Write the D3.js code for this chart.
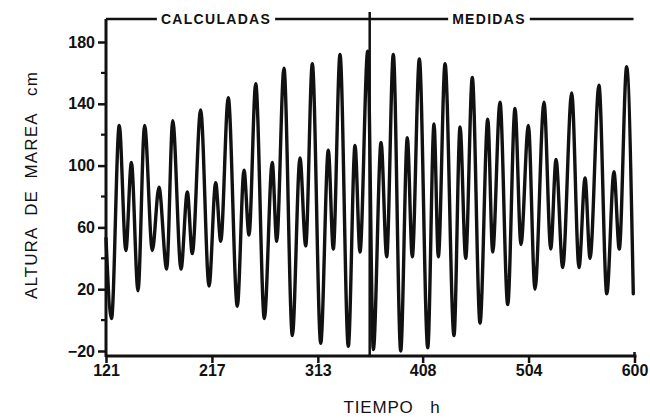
<!DOCTYPE html>
<html>
<head>
<meta charset="utf-8">
<script src="https://cdn.jsdelivr.net/npm/d3@7"></script>
<style>
  body { margin: 0; background: #fff; }
  svg { display: block; }
</style>
</head>
<body>
<svg id="chart" width="650" height="418"></svg>
<script>
// Tide record: successive highs and lows (hour, height in cm)
const hours = [
  121, 126, 133, 139, 144, 150, 156, 163, 169, 176,
  181.5, 189, 194.7, 199.2, 206.8, 214.4, 220.4, 225, 231.8, 240,
  246.1, 250.6, 256.7, 264.5, 271.7, 275.7, 282.3, 289.9, 296.8, 302,
  308, 315.6, 322.5, 327, 333.1, 340.6, 346.7, 351.2, 358.2, 363.3,
  370.3, 375.4, 381.4, 388.1, 394.1, 398.6, 405, 412.6, 418.3, 422.2,
  428.3, 436.4, 441.9, 447, 453, 460, 467, 471.5, 478.1, 485.1,
  491.7, 497.1, 503.8, 509.8, 518, 524.1, 528.9, 534.9, 543.1, 549.7,
  555.2, 559.7, 567.8, 574.9, 581.4, 586.2, 592.9, 598.9
];
const heights = [
  53, 1, 126, 45, 102, 19, 126, 45, 86, 33,
  129, 33, 83, 43, 136, 22, 89, 51, 144, 9,
  97, 55, 153, 1, 102, 51, 163, -10, 105, 48,
  166, -15, 110, 46, 172, -17, 113, 44, 174, -19,
  115, 41, 172, -20, 118, 41, 169, -18, 127, 41,
  166, -10, 125, 40, 157, -2, 130, 44, 141, 10,
  137, 49, 126, 20, 141, 46, 104, 34, 147, 34,
  92, 40, 152, 17, 96, 46, 164, 17
];

const xTickValues = [121, 217, 313, 408, 504, 600];
const yTickValues = [-20, 20, 60, 100, 140, 180];
const yMinorTickValues = [0, 40, 80, 120, 160];
const sectionLabels = ["CALCULADAS", "MEDIDAS"];
const sectionBreak = 360;
const xTitle = "TIEMPO   h";
const yTitle = "ALTURA  DE  MAREA   cm";

const svg = d3.select("#chart");
const x = d3.scaleLinear().domain([121, 600]).range([106, 634.5]);
const y = d3.scaleLinear().domain([-20, 180]).range([351, 42]);

const baseY = 356;   // x-axis line
const topY = 19;     // header rule
const numFont = "'Liberation Sans', Arial, sans-serif";

const ink = "#111";

// Tide curve
const points = hours.map((h, i) => [h, heights[i]]);
svg.append("path")
  .datum(points)
  .attr("fill", "none")
  .attr("stroke", ink)
  .attr("stroke-width", 3.4)
  .attr("stroke-linejoin", "round")
  .attr("stroke-linecap", "round")
  .attr("d", d3.line().x(d => x(d[0])).y(d => y(d[1])).curve(d3.curveMonotoneX));

// Left axis
const yAxisG = svg.append("g").attr("transform", `translate(${x(121)},0)`);
yAxisG.call(d3.axisLeft(y).tickValues(yTickValues).tickSize(8).tickPadding(3))
  .call(g => g.select(".domain").remove());
yAxisG.selectAll(".tick line").attr("stroke", ink).attr("stroke-width", 2.5);
yAxisG.selectAll(".tick text")
  .attr("font-family", numFont).attr("font-weight", "bold")
  .attr("font-size", 16).attr("fill", ink);
yAxisG.append("g").selectAll("line").data(yMinorTickValues).join("line")
  .attr("x1", -5).attr("x2", 0)
  .attr("y1", d => y(d)).attr("y2", d => y(d))
  .attr("stroke", ink).attr("stroke-width", 2.2);
yAxisG.append("line")
  .attr("x1", 0).attr("x2", 0).attr("y1", topY).attr("y2", baseY + 1)
  .attr("stroke", ink).attr("stroke-width", 3);

// Bottom axis
const xAxisG = svg.append("g").attr("transform", `translate(0,${baseY})`);
xAxisG.call(d3.axisBottom(x).tickValues(xTickValues).tickFormat(d3.format("d"))
    .tickSize(7).tickPadding(2))
  .call(g => g.select(".domain").remove());
xAxisG.selectAll(".tick line").attr("stroke", ink).attr("stroke-width", 2.5);
xAxisG.selectAll(".tick text")
  .attr("font-family", numFont).attr("font-weight", "bold")
  .attr("font-size", 16).attr("fill", ink);
xAxisG.append("line")
  .attr("x1", x(121)).attr("x2", x(600) + 2).attr("y1", 0).attr("y2", 0)
  .attr("stroke", ink).attr("stroke-width", 3);
xAxisG.append("line")
  .attr("x1", x(600)).attr("x2", x(600)).attr("y1", -4).attr("y2", 0)
  .attr("stroke", ink).attr("stroke-width", 2.5);

// Header rule with section labels and the break between them
svg.append("line")
  .attr("x1", x(121)).attr("x2", x(600) - 1).attr("y1", topY).attr("y2", topY)
  .attr("stroke", ink).attr("stroke-width", 2.5);
svg.append("line")
  .attr("x1", x(sectionBreak)).attr("x2", x(sectionBreak))
  .attr("y1", topY - 7).attr("y2", baseY)
  .attr("stroke", ink).attr("stroke-width", 2.5);

const labelCentres = [216, 489];
sectionLabels.forEach((txt, i) => {
  const t = svg.append("text")
    .attr("x", labelCentres[i]).attr("y", topY + 5)
    .attr("text-anchor", "middle")
    .attr("font-family", numFont).attr("font-weight", "bold")
    .attr("font-size", 14).attr("letter-spacing", 1.3)
    .attr("fill", ink).text(txt);
  const bb = t.node().getBBox();
  svg.insert("rect", () => t.node())
    .attr("x", bb.x - 4).attr("y", topY - 3).attr("width", bb.width + 8).attr("height", 6)
    .attr("fill", "#fff");
});

// Axis titles
svg.append("text")
  .attr("x", 392).attr("y", 413)
  .attr("text-anchor", "middle")
  .attr("font-family", numFont).attr("font-size", 17)
  .attr("letter-spacing", 0.8)
  .style("white-space", "pre")
  .attr("fill", ink).text(xTitle);

svg.append("text")
  .attr("transform", "translate(37,185) rotate(-90)")
  .attr("text-anchor", "middle")
  .attr("font-family", numFont).attr("font-size", 17)
  .attr("letter-spacing", 1.1)
  .style("white-space", "pre")
  .attr("fill", ink).text(yTitle);
</script>
</body>
</html>
